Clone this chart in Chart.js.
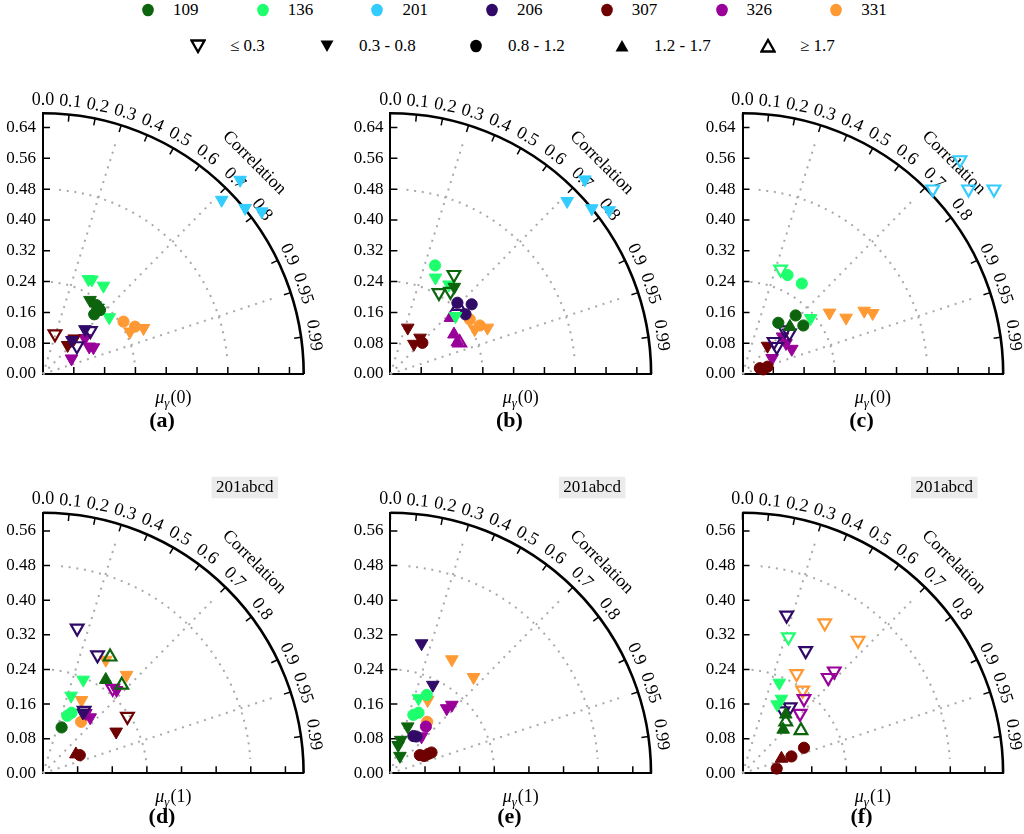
<!DOCTYPE html>
<html>
<head>
<meta charset="utf-8">
<script src="https://cdn.jsdelivr.net/npm/chart.js@4.4.1/dist/chart.umd.min.js"></script>
<style>
html,body{margin:0;padding:0;background:#fff;overflow:hidden;width:1024px;height:834px;}
#wrap{position:relative;width:1024px;height:834px;font-family:"Liberation Serif","Times New Roman","DejaVu Serif",Times,serif;color:#000;}
canvas{position:absolute;}
.lt{position:absolute;font-size:17px;line-height:18px;white-space:nowrap;}
.lm{position:absolute;width:16px;height:16px;}
</style>
</head>
<body>
<div id="wrap"></div>
<script>
// ---------------- data ----------------
const stations = ['109','136','201','206','307','326','331'];
const classLabels = ['\u2264 0.3','0.3 - 0.8','0.8 - 1.2','1.2 - 1.7','\u2265 1.7'];
const corrTicks = [0,0.1,0.2,0.3,0.4,0.5,0.6,0.7,0.8,0.9,0.95,0.99];
const corrLabels = ['0.0','0.1','0.2','0.3','0.4','0.5','0.6','0.7','0.8','0.9','0.95','0.99'];
const corrGrid = [0.3,0.7,0.95];
const stdGrid = [0.24,0.48];
const yTicksTop = [0.00,0.08,0.16,0.24,0.32,0.40,0.48,0.56,0.64];
const yTicksBot = [0.00,0.08,0.16,0.24,0.32,0.40,0.48,0.56];
const stdMaxTop = 0.677;
const stdMaxBot = 0.602;
const panelLabels = ['(a)','(b)','(c)','(d)','(e)','(f)'];
const lagLabels = ['0','0','0','1','1','1'];
const refTag = '201abcd';

// points: [station, x (std*corr), y (std*sin), class index]
const panelA = [
 ['109',0.122,0.192,1],['109',0.143,0.172,1],['109',0.138,0.179,2],['109',0.148,0.166,2],['109',0.133,0.155,2],
 ['136',0.118,0.246,1],['136',0.127,0.245,1],['136',0.157,0.229,1],['136',0.172,0.147,1],
 ['201',0.464,0.452,1],['201',0.512,0.504,1],['201',0.525,0.431,1],['201',0.568,0.422,1],
 ['206',0.109,0.116,1],['206',0.123,0.112,0],['206',0.088,0.073,0],['206',0.075,0.088,1],
 ['307',0.031,0.104,0],['307',0.064,0.075,1],['307',0.081,0.092,1],
 ['326',0.074,0.040,1],['326',0.109,0.093,1],['326',0.120,0.071,1],['326',0.131,0.069,1],
 ['331',0.209,0.136,2],['331',0.239,0.123,2],['331',0.226,0.110,1],['331',0.261,0.119,1]
];
const panelB = [
 ['109',0.165,0.258,0],['109',0.126,0.211,0],['109',0.156,0.214,0],['109',0.166,0.226,1],
 ['136',0.116,0.282,2],['136',0.117,0.250,1],['136',0.152,0.232,1],['136',0.169,0.150,1],
 ['201',0.459,0.449,1],['201',0.505,0.505,1],['201',0.523,0.430,1],['201',0.568,0.425,1],
 ['206',0.174,0.185,2],['206',0.176,0.176,4],['206',0.211,0.181,2],['206',0.195,0.155,2],
 ['307',0.045,0.120,1],['307',0.061,0.078,1],['307',0.077,0.094,1],['307',0.083,0.081,2],
 ['326',0.156,0.146,3],['326',0.165,0.103,3],['326',0.174,0.083,3],['326',0.180,0.081,4],
 ['331',0.206,0.142,2],['331',0.219,0.116,1],['331',0.232,0.126,2],['331',0.252,0.120,1]
];
const panelC = [
 ['109',0.093,0.133,2],['109',0.138,0.152,2],['109',0.123,0.123,3],['109',0.158,0.126,2],
 ['136',0.099,0.272,0],['136',0.117,0.257,2],['136',0.154,0.235,2],['136',0.177,0.145,1],
 ['201',0.565,0.556,0],['201',0.494,0.480,0],['201',0.587,0.480,0],['201',0.653,0.480,0],
 ['206',0.122,0.106,0],['206',0.082,0.084,0],['206',0.089,0.071,0],['206',0.110,0.114,0],
 ['307',0.065,0.073,1],['307',0.045,0.015,2],['307',0.054,0.012,2],['307',0.065,0.019,2],
 ['326',0.104,0.097,1],['326',0.113,0.080,1],['326',0.128,0.065,1],['326',0.077,0.041,1],
 ['331',0.226,0.159,1],['331',0.269,0.146,1],['331',0.316,0.164,1],['331',0.338,0.158,1]
];
const panelD = [
 ['109',0.155,0.269,4],['109',0.145,0.216,3],['109',0.182,0.204,4],['109',0.043,0.106,2],
 ['136',0.093,0.216,1],['136',0.065,0.179,1],['136',0.056,0.133,2],['136',0.066,0.140,2],
 ['206',0.079,0.335,0],['206',0.126,0.273,0],['206',0.095,0.145,0],['206',0.092,0.140,1],
 ['307',0.195,0.131,0],['307',0.169,0.096,1],['307',0.076,0.044,3],['307',0.085,0.042,2],
 ['326',0.161,0.196,0],['326',0.170,0.192,1],['326',0.099,0.139,1],['326',0.109,0.129,1],
 ['331',0.145,0.262,1],['331',0.193,0.227,1],['331',0.089,0.169,1],['331',0.088,0.119,2]
];
const panelE = [
 ['109',0.040,0.108,1],['109',0.024,0.077,1],['109',0.018,0.065,1],['109',0.022,0.040,1],
 ['136',0.084,0.181,2],['136',0.065,0.173,1],['136',0.053,0.135,2],['136',0.065,0.140,2],
 ['206',0.072,0.300,1],['206',0.098,0.204,1],['206',0.053,0.086,2],['206',0.060,0.085,2],
 ['307',0.068,0.042,2],['307',0.078,0.040,2],['307',0.088,0.045,2],['307',0.095,0.048,2],
 ['326',0.130,0.150,1],['326',0.142,0.158,1],['326',0.082,0.108,2],['326',0.072,0.085,1],
 ['331',0.142,0.263,1],['331',0.192,0.222,1],['331',0.086,0.169,1],['331',0.085,0.119,2]
];
const panelF = [
 ['109',0.100,0.136,3],['109',0.100,0.119,4],['109',0.094,0.101,3],['109',0.135,0.099,4],
 ['136',0.106,0.315,0],['136',0.085,0.209,1],['136',0.090,0.172,1],['136',0.080,0.159,1],
 ['206',0.102,0.365,0],['206',0.146,0.283,0],['206',0.094,0.144,0],['206',0.110,0.153,0],
 ['307',0.142,0.059,2],['307',0.113,0.039,2],['307',0.090,0.034,3],['307',0.079,0.011,2],
 ['326',0.212,0.236,0],['326',0.198,0.221,0],['326',0.142,0.172,0],['326',0.133,0.138,0],
 ['331',0.190,0.347,0],['331',0.267,0.307,0],['331',0.125,0.230,0],['331',0.139,0.192,0]
];
const panelData = [panelA,panelB,panelC,panelD,panelE,panelF];

// ---------------- styles ----------------
const stationColors = {'109':'#0c640c','136':'#1eff6e','201':'#33ccff','206':'#300a66','307':'#6e0000','326':'#990099','331':'#ff9933'};
const classStyle = [
 {style:'triangle',rot:180,open:true},
 {style:'triangle',rot:180,open:false},
 {style:'circle',rot:0,open:false},
 {style:'triangle',rot:0,open:false},
 {style:'triangle',rot:0,open:true}
];
const FONT = '"Liberation Serif", "Times New Roman", "DejaVu Serif", Times, serif';
Chart.defaults.font.family = FONT;
Chart.defaults.color = '#000';

// ---------------- legend (HTML) ----------------
const wrap = document.getElementById('wrap');
function markerSVG(cls, color){
  const s = classStyle[cls];
  let shape;
  if (s.style === 'circle') shape = `<ellipse cx="8" cy="8" rx="5.8" ry="6.3" fill="${color}"/>`;
  else {
    const pts = s.rot ? '1.5,2.5 14.5,2.5 8,14' : '1.5,13.5 14.5,13.5 8,2';
    shape = s.open ? `<polygon points="${pts}" fill="none" stroke="${color}" stroke-width="2.3"/>`
                   : `<polygon points="${pts}" fill="${color}"/>`;
  }
  return `<svg class="lm" viewBox="0 0 16 16" xmlns="http://www.w3.org/2000/svg">${shape}</svg>`;
}
function addLegendItem(cx, cy, cls, color, text, gap){
  const m = document.createElement('div');
  m.innerHTML = markerSVG(cls, color);
  const svg = m.firstChild; svg.style.left = (cx-8)+'px'; svg.style.top = (cy-8)+'px';
  wrap.appendChild(svg);
  const t = document.createElement('div');
  t.className = 'lt'; t.textContent = text;
  t.style.left = (cx+gap)+'px'; t.style.top = (cy-9)+'px';
  wrap.appendChild(t);
}
stations.forEach((s,i)=> addLegendItem(148 + i*114.7, 10, 2, stationColors[s], s, 25));
[198,327,476,622,768].forEach((x,i)=> addLegendItem(x, 46, i, '#000', classLabels[i], 32));

// ---------------- taylor plugin ----------------
const taylor = {
  id:'taylor',
  beforeDatasetsDraw(chart){
    const o = chart.options.plugins.taylor;
    const {ctx, scales:{x,y}} = chart;
    const ox = x.getPixelForValue(0), oy = y.getPixelForValue(0);
    const R = x.getPixelForValue(x.max) - ox;
    const k = R / x.max;
    ctx.save();
    // dotted grid
    ctx.strokeStyle = '#a9a9a9'; ctx.lineWidth = 2; ctx.setLineDash([2,5.7]);
    corrGrid.forEach(c=>{
      const t = Math.acos(c);
      ctx.beginPath(); ctx.moveTo(ox,oy);
      ctx.lineTo(ox+0.94*R*Math.cos(t), oy-0.94*R*Math.sin(t)); ctx.stroke();
    });
    stdGrid.forEach(s=>{
      ctx.beginPath(); ctx.arc(ox,oy,s*k,-85*Math.PI/180,-4*Math.PI/180); ctx.stroke();
    });
    ctx.setLineDash([]);
    // inward axis ticks
    ctx.strokeStyle = '#000'; ctx.lineWidth = 1.5;
    o.ticks.forEach(v=>{
      if (v <= 0) return;
      const py = y.getPixelForValue(v), px = x.getPixelForValue(v);
      ctx.beginPath(); ctx.moveTo(ox,py); ctx.lineTo(ox+7,py);
      ctx.moveTo(px,oy); ctx.lineTo(px,oy-7); ctx.stroke();
    });
    // outer arc
    ctx.lineWidth = 2.6;
    ctx.beginPath(); ctx.arc(ox,oy,R,-Math.PI/2,0); ctx.stroke();
    ctx.lineWidth = 1.5;
    corrTicks.forEach(c=>{
      const t = Math.acos(c), ct = Math.cos(t), st = Math.sin(t);
      ctx.beginPath(); ctx.moveTo(ox+R*ct, oy-R*st); ctx.lineTo(ox+(R-7)*ct, oy-(R-7)*st); ctx.stroke();
    });
    // correlation labels
    ctx.fillStyle = '#000'; ctx.textAlign = 'center'; ctx.textBaseline = 'middle';
    ctx.font = '18px ' + FONT;
    corrTicks.forEach((c,i)=>{
      const t = Math.acos(c), r = R + 13;
      ctx.save(); ctx.translate(ox+r*Math.cos(t), oy-r*Math.sin(t)); ctx.rotate(Math.PI/2 - t);
      ctx.fillText(corrLabels[i],0,0); ctx.restore();
    });
    ctx.save(); ctx.translate(ox+(R+38)*Math.cos(Math.PI/4), oy-(R+38)*Math.sin(Math.PI/4));
    ctx.rotate(Math.PI/4); ctx.fillText('Correlation',0,0); ctx.restore();
    // x-axis title  mu_gamma(lag)
    const parts = [
      {t:'\u03bc', f:'italic 18px '+FONT, dy:0},
      {t:'\u03b3', f:'italic 13px '+FONT, dy:4},
      {t:'('+o.lag+')', f:'18px '+FONT, dy:0}
    ];
    let tw = 0; parts.forEach(p=>{ ctx.font = p.f; p.w = ctx.measureText(p.t).width + (p.t==='\u03b3'?1:0); tw += p.w; });
    let cx = ox + R/2 - tw/2; const cy = oy + 24;
    ctx.textAlign = 'left'; ctx.textBaseline = 'alphabetic';
    parts.forEach(p=>{ ctx.font = p.f; ctx.fillText(p.t, cx, cy+5+p.dy); cx += p.w; });
    // panel label
    ctx.textAlign = 'center'; ctx.textBaseline = 'middle';
    ctx.font = 'bold 22px ' + FONT;
    ctx.fillText(o.label, ox + 119, oy + o.labelDy);
    // reference tag box
    if (o.tag){
      ctx.fillStyle = '#ebebeb';
      ctx.fillRect(ox+168.5, oy-296.6, 66.5, 21.6);
      ctx.fillStyle = '#000'; ctx.font = '17px ' + FONT;
      ctx.fillText(o.tag, ox+201.7, oy-285.5);
    }
    ctx.restore();
  }
};

// ---------------- build panels ----------------
const axisX = [43, 390.4, 742.5];
const axisY = [374, 773.3];
const RPX = [260.7, 260.6];
const canvasTop = [80, 470];
const canvasH = [360, 364];
const canvasW = 330;

panelData.forEach((pts, idx)=>{
  const row = Math.floor(idx/3), col = idx%3;
  const stdMax = row === 0 ? stdMaxTop : stdMaxBot;
  const ticks = row === 0 ? yTicksTop : yTicksBot;
  const left = Math.floor(axisX[col] - 43);
  const padL = (axisX[col] - 43) - left;
  const top = canvasTop[row], H = canvasH[row];
  const padT = (axisY[row] - RPX[row]) - top;
  const padB = H - padT - RPX[row];
  const padR = canvasW - padL - 43 - RPX[row];
  const cv = document.createElement('canvas');
  cv.width = canvasW; cv.height = H;
  cv.style.left = left+'px'; cv.style.top = top+'px';
  cv.style.width = canvasW+'px'; cv.style.height = H+'px';
  wrap.appendChild(cv);

  const datasets = stations.filter(s=>pts.some(p=>p[0]===s)).map(s=>{
    const sp = pts.filter(p=>p[0]===s);
    const col = stationColors[s];
    return {
      label: s,
      data: sp.map(p=>({x:p[1], y:p[2]})),
      pointStyle: sp.map(p=>classStyle[p[3]].style),
      pointRotation: sp.map(p=>classStyle[p[3]].rot),
      pointBackgroundColor: sp.map(p=>classStyle[p[3]].open ? 'rgba(255,255,255,0)' : col),
      pointBorderColor: col,
      pointBorderWidth: sp.map(p=>classStyle[p[3]].open ? 2.2 : 1),
      pointRadius: sp.map(p=>classStyle[p[3]].style==='circle' ? 5.6 : 7.3),
      pointHoverRadius: sp.map(p=>classStyle[p[3]].style==='circle' ? 5.6 : 7.3),
      showLine: false,
      clip: false
    };
  });

  new Chart(cv, {
    type:'scatter',
    data:{datasets},
    plugins:[taylor],
    options:{
      responsive:false,
      animation:false,
      events:[],
      layout:{padding:{left:padL, top:padT, right:padR, bottom:padB}},
      plugins:{
        legend:{display:false},
        tooltip:{enabled:false},
        taylor:{ticks, lag: lagLabels[idx], label: panelLabels[idx], labelDy: row===0 ? 47 : 44, tag: row===1 ? refTag : null}
      },
      scales:{
        x:{
          type:'linear', min:0, max:stdMax,
          grid:{display:false, drawTicks:false},
          border:{display:true, color:'#000', width:2},
          ticks:{display:false},
          afterFit(s){ s.height = 0; }
        },
        y:{
          type:'linear', min:0, max:stdMax,
          grid:{display:false, drawTicks:false},
          border:{display:true, color:'#000', width:2},
          ticks:{padding:7, font:{size:17, family:FONT}, color:'#000', autoSkip:false,
                 callback:(v)=>Number(v).toFixed(2)},
          afterBuildTicks(s){ s.ticks = ticks.map(v=>({value:v})); },
          afterFit(s){ s.width = 43; }
        }
      }
    }
  });
});
</script>
</body>
</html>
